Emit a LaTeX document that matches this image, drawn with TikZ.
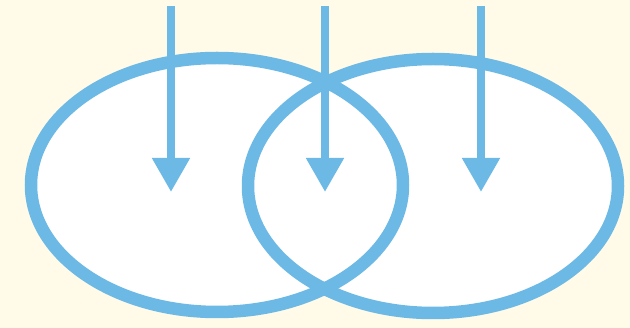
\documentclass[tikz,border=0pt]{standalone}
\usetikzlibrary{arrows.meta}

\begin{document}
\begin{tikzpicture}[x=1pt, y=-1pt]
    \definecolor{ringColour}{RGB}{108,185,230}
    \definecolor{paperColour}{RGB}{255,251,232}

    \tikzset{
        ring/.style={draw=ringColour, line width=12.5pt},
        dropArrow/.style={draw=ringColour, line width=8pt,
            -{Triangle[width=36pt, length=34pt]}}
    }

    % Background and frame
    \fill[paperColour] (0,0) rectangle (630,328);
    \useasboundingbox (0,0) rectangle (630,328);

    % Centres of the two rings
    \coordinate (L) at (217,185);
    \coordinate (R) at (433,186);

    % White inside first, then both outlines
    \fill[white] (L) ellipse [x radius=186, y radius=127];
    \fill[white] (R) ellipse [x radius=185, y radius=127];
    \draw[ring] (L) ellipse [x radius=186, y radius=127];
    \draw[ring] (R) ellipse [x radius=185, y radius=127];

    % Three arrows coming down from the top
    \foreach \x/\n in {171/a, 325/b, 481/c} {
        \coordinate (top\n) at (\x,6);
        \coordinate (tip\n) at (\x,192);
        \draw[dropArrow] (top\n) -- (tip\n);
    }

\end{tikzpicture}
\end{document}
